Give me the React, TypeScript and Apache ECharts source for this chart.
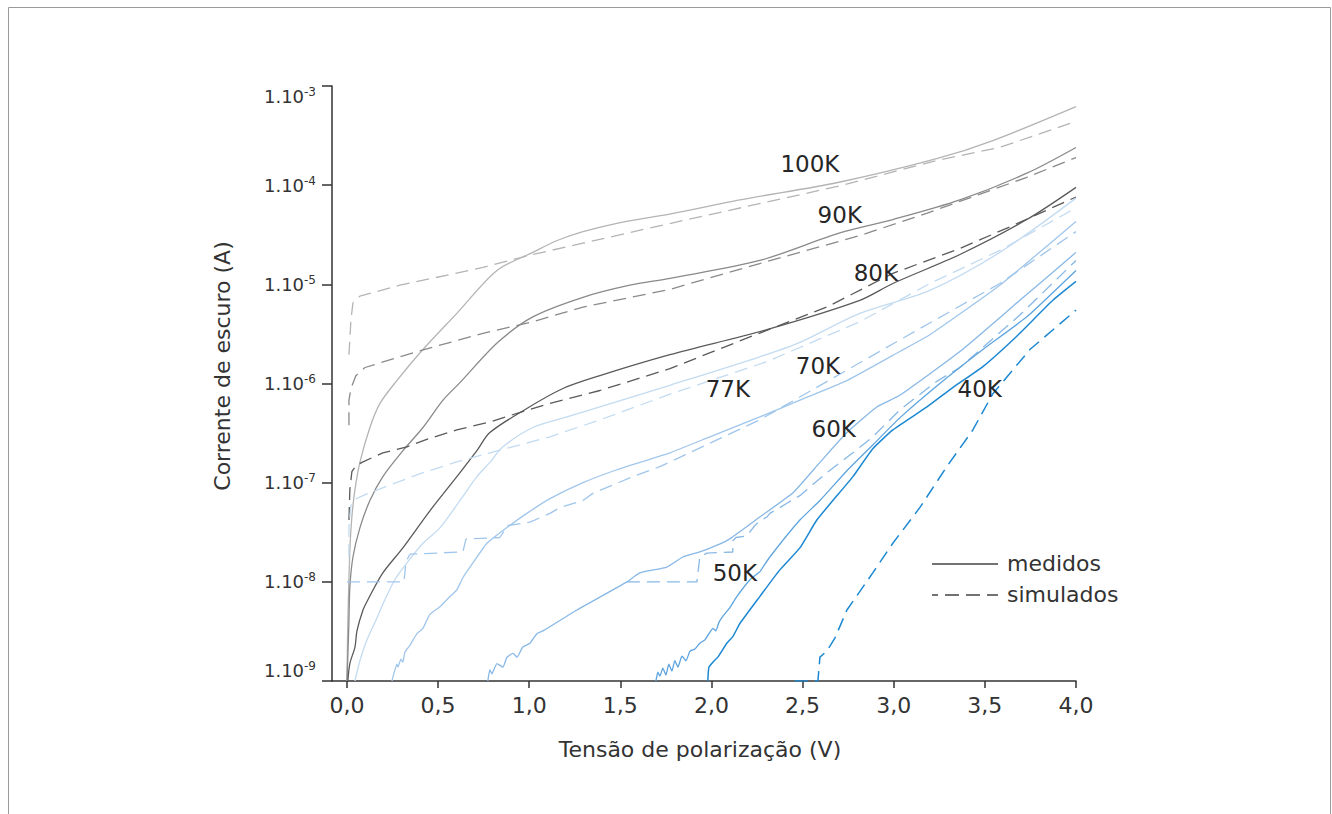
import React, { useEffect, useRef } from "react";
import * as echarts from "echarts";

const FONT = '"DejaVu Sans", "Noto Sans", sans-serif';
const TEXT_COLOR = "#333333";
const AXIS_COLOR = "#333333";

const xTickValues = [0, 0.5, 1, 1.5, 2, 2.5, 3, 3.5, 4];
const yTickValues = [1e-9, 1e-8, 1e-7, 1e-6, 1e-5, 1e-4, 1e-3];

// [tensão (V), corrente (A)]
const meas100K = [[0.0,1.0e-9],[0.005,4.1e-9],[0.016,2.1e-8],[0.027,4.5e-8],[0.044,8.5e-8],[0.071,1.6e-7],[0.126,3.6e-7],[0.181,6.3e-7],[0.274,1.07e-6],[0.417,2.2e-6],[0.603,5.1e-6],[0.823,1.38e-5],[1.02,2.1e-5],[1.15,2.75e-5],[1.295,3.4e-5],[1.5,4.2e-5],[1.77,5.1e-5],[2.156,7.1e-5],[2.7,1.07e-4],[3.24,1.86e-4],[3.54,2.8e-4],[4.0,6.2e-4]];
const sim100K = [[0.011,1.95e-6],[0.022,4.4e-6],[0.033,6.5e-6],[0.071,7.6e-6],[0.29,9.8e-6],[0.746,1.48e-5],[1.02,2.0e-5],[1.295,2.6e-5],[1.77,4.1e-5],[2.7,9.8e-5],[3.24,1.78e-4],[3.58,2.4e-4],[4.0,4.4e-4]];

const meas90K = [[0.0,1.0e-9],[0.005,1.8e-9],[0.011,4.1e-9],[0.016,8.9e-9],[0.033,1.78e-8],[0.071,3.5e-8],[0.126,6.6e-8],[0.197,1.15e-7],[0.307,2.1e-7],[0.417,3.6e-7],[0.527,6.8e-7],[0.62,1.02e-6],[0.828,2.6e-6],[1.02,4.7e-6],[1.295,7.4e-6],[1.552,9.8e-6],[1.772,1.15e-5],[2.265,1.74e-5],[2.704,3.3e-5],[2.995,4.5e-5],[3.363,7.1e-5],[3.73,1.32e-4],[4.0,2.4e-4]];
const sim90K = [[0.011,3.8e-7],[0.011,6.8e-7],[0.022,8.9e-7],[0.049,1.2e-6],[0.099,1.45e-6],[0.384,2.1e-6],[0.746,3.2e-6],[1.02,4.2e-6],[1.295,5.9e-6],[1.772,8.9e-6],[2.265,1.62e-5],[2.814,3.1e-5],[3.18,5.2e-5],[3.73,1.2e-4],[4.0,1.9e-4]];

const meas80K = [[0.005,1.0e-9],[0.016,1.5e-9],[0.044,2.2e-9],[0.055,3.2e-9],[0.088,5.2e-9],[0.115,6.6e-9],[0.197,1.23e-8],[0.307,2.2e-8],[0.455,5.2e-8],[0.603,1.15e-7],[0.713,2.1e-7],[0.784,3.2e-7],[0.987,5.6e-7],[1.185,8.9e-7],[1.388,1.2e-6],[1.772,1.95e-6],[2.304,3.5e-6],[2.814,6.9e-6],[2.995,1.02e-5],[3.363,2.0e-5],[3.73,4.5e-5],[4.0,9.5e-5]];
const sim80K = [[0.011,4.2e-8],[0.016,8.5e-8],[0.027,1.29e-7],[0.049,1.48e-7],[0.088,1.62e-7],[0.197,2.0e-7],[0.329,2.3e-7],[0.455,2.8e-7],[0.603,3.4e-7],[0.784,4.1e-7],[0.933,5.0e-7],[1.114,6.3e-7],[1.388,8.5e-7],[1.772,1.41e-6],[2.211,2.95e-6],[2.633,5.9e-6],[2.995,1.29e-5],[3.363,2.3e-5],[3.637,3.8e-5],[4.0,7.6e-5]];

const meas77K = [[0.044,1.0e-9],[0.071,1.6e-9],[0.11,2.6e-9],[0.159,4.1e-9],[0.208,6.6e-9],[0.263,1.05e-8],[0.329,1.55e-8],[0.417,2.45e-8],[0.51,3.5e-8],[0.62,6.6e-8],[0.713,1.15e-7],[0.784,1.6e-7],[0.856,2.3e-7],[1.02,3.6e-7],[1.207,4.6e-7],[1.388,5.8e-7],[1.772,9.6e-7],[2.265,1.86e-6],[2.485,2.6e-6],[2.814,5.1e-6],[3.198,8.7e-6],[3.582,2.1e-5],[4.0,7.4e-5]];
const sim77K = [[0.011,1.78e-8],[0.011,3.5e-8],[0.022,5.9e-8],[0.044,6.8e-8],[0.088,7.4e-8],[0.236,9.5e-8],[0.417,1.26e-7],[0.603,1.62e-7],[0.784,2.0e-7],[1.114,2.9e-7],[1.388,4.3e-7],[1.772,7.8e-7],[2.304,1.66e-6],[2.814,4.2e-6],[3.198,1.02e-5],[3.582,2.2e-5],[4.0,5.9e-5]];

const meas70K = [[0.247,1.0e-9],[0.258,1.2e-9],[0.274,1.48e-9],[0.28,1.38e-9],[0.296,1.66e-9],[0.307,1.55e-9],[0.318,1.95e-9],[0.346,2.3e-9],[0.384,3.0e-9],[0.417,3.4e-9],[0.455,4.7e-9],[0.51,5.6e-9],[0.565,7.1e-9],[0.603,8.3e-9],[0.636,1.1e-8],[0.691,1.55e-8],[0.768,2.45e-8],[0.856,3.3e-8],[0.987,4.9e-8],[1.114,6.9e-8],[1.295,1.0e-7],[1.481,1.35e-7],[1.772,2.0e-7],[1.991,2.9e-7],[2.265,4.6e-7],[2.485,6.8e-7],[2.743,1.07e-6],[3.033,2.1e-6],[3.198,3.1e-6],[3.582,9.8e-6],[4.0,4.3e-5]];
const sim70K = [[0.0,1.0e-8],[0.313,1.0e-8],[0.324,1.6e-8],[0.346,1.9e-8],[0.636,2.0e-8],[0.653,2.7e-8],[0.839,2.8e-8],[0.883,3.7e-8],[1.004,4.0e-8],[1.114,4.9e-8],[1.168,5.6e-8],[1.295,6.6e-8],[1.349,7.8e-8],[1.569,1.15e-7],[1.717,1.45e-7],[2.03,2.7e-7],[2.265,4.3e-7],[2.72,1.29e-6],[3.033,2.75e-6],[3.582,1.02e-5],[4.0,3.4e-5]];

const meas60K = [[0.773,1.0e-9],[0.784,1.3e-9],[0.795,1.18e-9],[0.823,1.5e-9],[0.856,1.38e-9],[0.878,1.74e-9],[0.911,1.9e-9],[0.933,1.74e-9],[0.965,2.2e-9],[1.004,2.4e-9],[1.042,3.0e-9],[1.075,3.2e-9],[1.262,5.2e-9],[1.536,1.0e-8],[1.607,1.23e-8],[1.755,1.41e-8],[1.843,1.78e-8],[1.936,2.0e-8],[2.084,2.6e-8],[2.265,4.5e-8],[2.447,7.9e-8],[2.595,1.6e-7],[2.743,3.2e-7],[2.907,5.8e-7],[3.033,7.6e-7],[3.363,2.1e-6],[3.692,6.9e-6],[4.0,2.1e-5]];
const sim60K = [[1.536,1.0e-8],[1.92,1.0e-8],[1.936,1.78e-8],[1.975,1.95e-8],[2.117,2.0e-8],[2.117,2.6e-8],[2.134,2.8e-8],[2.194,2.9e-8],[2.238,3.7e-8],[2.265,4.1e-8],[2.304,4.5e-8],[2.32,4.9e-8],[2.375,5.6e-8],[2.414,6.2e-8],[2.485,7.4e-8],[2.523,8.5e-8],[2.633,1.26e-7],[2.776,2.0e-7],[2.885,2.9e-7],[3.033,5.4e-7],[3.236,1.05e-6],[3.363,1.45e-6],[3.692,4.9e-6],[4.0,1.74e-5]];

const meas50K = [[1.695,1.0e-9],[1.706,1.23e-9],[1.717,1.12e-9],[1.733,1.35e-9],[1.75,1.15e-9],[1.766,1.48e-9],[1.783,1.26e-9],[1.799,1.6e-9],[1.816,1.38e-9],[1.838,1.78e-9],[1.86,1.6e-9],[1.882,2.0e-9],[1.909,2.1e-9],[1.936,2.4e-9],[1.964,2.6e-9],[1.991,3.1e-9],[2.008,3.4e-9],[2.024,3.2e-9],[2.041,3.9e-9],[2.063,4.5e-9],[2.101,5.5e-9],[2.139,7.1e-9],[2.211,1.05e-8],[2.249,1.2e-8],[2.265,1.26e-8],[2.32,1.78e-8],[2.485,4.2e-8],[2.595,6.6e-8],[2.743,1.32e-7],[2.885,2.4e-7],[3.033,4.5e-7],[3.253,1.0e-6],[3.489,2.2e-6],[3.73,4.7e-6],[4.0,1.38e-5]];

const meas40K = [[1.98,1.0e-9],[1.986,1.38e-9],[2.008,1.55e-9],[2.035,1.74e-9],[2.084,2.4e-9],[2.117,2.8e-9],[2.156,3.8e-9],[2.265,7.1e-9],[2.375,1.32e-8],[2.485,2.2e-8],[2.578,4.2e-8],[2.666,6.6e-8],[2.776,1.15e-7],[2.885,2.2e-7],[2.995,3.4e-7],[3.182,5.8e-7],[3.324,9.1e-7],[3.489,1.48e-6],[3.675,3.0e-6],[3.873,6.9e-6],[4.0,1.07e-5]];
const sim40K = [[2.457,1.0e-9],[2.584,1.0e-9],[2.595,1.74e-9],[2.633,2.0e-9],[2.677,2.7e-9],[2.743,5.2e-9],[2.885,1.23e-8],[2.995,2.45e-8],[3.143,5.6e-8],[3.291,1.45e-7],[3.434,3.4e-7],[3.544,7.9e-7],[3.747,2.2e-6],[4.0,5.5e-6]];

// curve labels: [texto, tensão, corrente]
const curveLabels: [string, number, number][] = [
  ["100K", 2.54, 1.62e-4],
  ["90K", 2.704, 5.0e-5],
  ["80K", 2.902, 1.29e-5],
  ["70K", 2.584, 1.5e-6],
  ["77K", 2.09, 8.7e-7],
  ["60K", 2.671, 3.5e-7],
  ["50K", 2.128, 1.23e-8],
  ["40K", 3.472, 8.7e-7],
];

const curves = [
  { name: "100K", color: "#b4b4b4", measured: meas100K, simulated: sim100K, smooth: 0.3 },
  { name: "90K", color: "#8a8a8a", measured: meas90K, simulated: sim90K, smooth: 0.3 },
  { name: "80K", color: "#5a5a5a", measured: meas80K, simulated: sim80K, smooth: 0.3 },
  { name: "77K", color: "#c3dbf1", measured: meas77K, simulated: sim77K, smooth: 0.3 },
  { name: "70K", color: "#a0c6eb", measured: meas70K, simulated: sim70K, smooth: 0.15 },
  { name: "60K", color: "#88b8e6", measured: meas60K, simulated: sim60K, smooth: 0.15 },
  { name: "50K", color: "#5ea4df", measured: meas50K, simulated: null, smooth: 0.15 },
  { name: "40K", color: "#1c88d2", measured: meas40K, simulated: sim40K, smooth: 0.15 },
];

export default function App() {
  const ref = useRef<HTMLDivElement>(null);

  useEffect(() => {
    if (!ref.current) return;
    const chart = echarts.init(ref.current, undefined, { renderer: "svg" });

    const series: any[] = [];
    curves.forEach((c) => {
      series.push({
        type: "line",
        name: c.name + " medidos",
        data: c.measured,
        symbol: "none",
        showSymbol: false,
        smooth: c.smooth,
        silent: true,
        lineStyle: { color: c.color, width: c.name === "40K" ? 1.5 : 1.3, type: "solid" },
        z: 2,
      });
      if (c.simulated) {
        series.push({
          type: "line",
          name: c.name + " simulados",
          data: c.simulated,
          symbol: "none",
          showSymbol: false,
          smooth: false,
          silent: true,
          lineStyle: { color: c.color, width: c.name === "40K" ? 1.5 : 1.3, type: [13, 7] },
          z: 2,
        });
      }
    });
    series.push({
      type: "scatter",
      name: "rótulos",
      data: curveLabels.map(([t, v, i]) => ({ name: t, value: [v, i] })),
      symbolSize: 1,
      itemStyle: { color: "rgba(255,255,255,0)" },
      silent: true,
      z: 5,
      label: {
        show: true,
        position: "inside",
        formatter: "{b}",
        fontSize: 23,
        fontFamily: FONT,
        color: "#262626",
        opacity: 1,
        textBorderWidth: 0,
        textBorderColor: "transparent",
      },
    });

    const textStyle = (size: number) => ({ fontSize: size, fontFamily: FONT, fill: TEXT_COLOR });

    chart.setOption({
      animation: false,
      backgroundColor: "#ffffff",
      grid: { left: 332, right: 256, top: 86, bottom: 133, containLabel: false },
      xAxis: {
        type: "value",
        min: -0.082,
        max: 4,
        axisLine: { show: true, onZero: false, lineStyle: { color: AXIS_COLOR, width: 1.5 } },
        axisTick: { show: true, length: 7, customValues: xTickValues, lineStyle: { color: AXIS_COLOR, width: 1.5 } },
        axisLabel: {
          customValues: xTickValues,
          formatter: (v: number) => v.toFixed(1).replace(".", ","),
          fontSize: 22,
          fontFamily: FONT,
          color: TEXT_COLOR,
          margin: 13,
        },
        splitLine: { show: false },
      },
      yAxis: {
        type: "log",
        logBase: 10,
        min: 1e-9,
        max: 1e-3,
        axisLine: { show: true, onZero: false, lineStyle: { color: AXIS_COLOR, width: 1.5 } },
        axisTick: { show: true, length: 10, customValues: yTickValues, lineStyle: { color: AXIS_COLOR, width: 1.5 } },
        axisLabel: {
          customValues: yTickValues,
          margin: 16,
          verticalAlignMinLabel: "bottom",
          verticalAlignMaxLabel: "top",
          formatter: (v: number) => "{b|1.10}{s|" + Math.round(Math.log10(v)) + "}",
          rich: {
            b: { fontSize: 18, fontFamily: FONT, color: TEXT_COLOR },
            s: { fontSize: 12, fontFamily: FONT, color: TEXT_COLOR, padding: [0, 0, 9, 0] },
          },
        },
        splitLine: { show: false },
        minorTick: { show: false },
      },
      series,
      graphic: [
        {
          type: "rect",
          silent: true,
          shape: { x: 8.5, y: 7.5, width: 1322, height: 900 },
          style: { fill: "none", stroke: "#9a9a9a", lineWidth: 1 },
        },
        {
          type: "text",
          x: 700,
          y: 749,
          silent: true,
          style: { text: "Tensão de polarização (V)", ...textStyle(22), align: "center", verticalAlign: "middle", textAlign: "center", textVerticalAlign: "middle" },
        },
        {
          type: "text",
          x: 222,
          y: 366,
          rotation: Math.PI / 2,
          silent: true,
          style: { text: "Corrente de escuro (A)", ...textStyle(22), align: "center", verticalAlign: "middle", textAlign: "center", textVerticalAlign: "middle" },
        },
        {
          type: "line",
          silent: true,
          shape: { x1: 932, y1: 564, x2: 998, y2: 564 },
          style: { stroke: "#444444", lineWidth: 1.3 },
        },
        {
          type: "line",
          silent: true,
          shape: { x1: 932, y1: 595, x2: 998, y2: 595 },
          style: { stroke: "#444444", lineWidth: 1.3, lineDash: [14, 7], lineDashOffset: 8 },
        },
        {
          type: "text",
          x: 1007,
          y: 563,
          silent: true,
          style: { text: "medidos", ...textStyle(22), align: "left", verticalAlign: "middle", textAlign: "left", textVerticalAlign: "middle" },
        },
        {
          type: "text",
          x: 1007,
          y: 594,
          silent: true,
          style: { text: "simulados", ...textStyle(22), align: "left", verticalAlign: "middle", textAlign: "left", textVerticalAlign: "middle" },
        },
      ],
    });

    return () => chart.dispose();
  }, []);

  return (
    <div
      ref={ref}
      style={{ position: "absolute", left: 0, top: 0, width: 1332, height: 814, background: "#ffffff" }}
    />
  );
}
